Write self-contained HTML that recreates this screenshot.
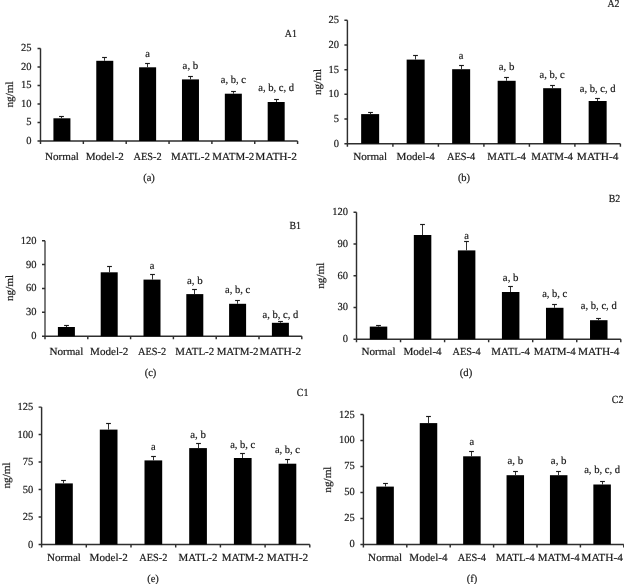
<!DOCTYPE html>
<html><head><meta charset="utf-8"><style>
html,body{margin:0;padding:0;background:#fff;}
body{width:624px;height:584px;overflow:hidden;}
svg{display:block;will-change:transform;}
text{font-family:"Liberation Serif",serif;font-size:10.8px;fill:#1a1a1a;stroke:#1a1a1a;stroke-width:0.2px;text-rendering:geometricPrecision;}
</style></head><body>
<svg width="624" height="584" viewBox="0 0 624 584">
<rect width="624" height="584" fill="#fff"/>
<path d="M40.5 48.4V141" stroke="#2e2e2e" stroke-width="1.45" fill="none"/>
<path d="M40.5 141H297.6M37.5 141H40.5M37.5 122.48H40.5M37.5 103.96H40.5M37.5 85.44H40.5M37.5 66.92H40.5M37.5 48.4H40.5M40.5 141V144M83.35 141V144M126.2 141V144M169.05 141V144M211.9 141V144M254.75 141V144M297.6 141V144" stroke="#2e2e2e" stroke-width="1.45" fill="none"/>
<rect x="53.42" y="118.3" width="17" height="22.7" fill="#000"/>
<path d="M61.5 118.3V116.5" stroke="#262626" stroke-width="0.95" fill="none"/>
<path d="M59.1 116.5H63.9" stroke="#1a1a1a" stroke-width="1.15" fill="none"/>
<text x="61.92" y="159.7" text-anchor="middle" textLength="33.99" lengthAdjust="spacingAndGlyphs">Normal</text>
<rect x="96.28" y="60.8" width="17" height="80.2" fill="#000"/>
<path d="M104.5 60.8V57.5" stroke="#262626" stroke-width="0.95" fill="none"/>
<path d="M102.1 57.5H106.9" stroke="#1a1a1a" stroke-width="1.15" fill="none"/>
<text x="104.78" y="159.7" text-anchor="middle" textLength="38.22" lengthAdjust="spacingAndGlyphs">Model-2</text>
<rect x="139.12" y="67.3" width="17" height="73.7" fill="#000"/>
<path d="M147.5 67.3V63.5" stroke="#262626" stroke-width="0.95" fill="none"/>
<path d="M145.1 63.5H149.9" stroke="#1a1a1a" stroke-width="1.15" fill="none"/>
<text x="147.62" y="56.9" text-anchor="middle" textLength="4.66" lengthAdjust="spacingAndGlyphs">a</text>
<text x="147.62" y="159.7" text-anchor="middle" textLength="28.15" lengthAdjust="spacingAndGlyphs">AES-2</text>
<rect x="181.97" y="79.4" width="17" height="61.6" fill="#000"/>
<path d="M190.5 79.4V76.5" stroke="#262626" stroke-width="0.95" fill="none"/>
<path d="M188.1 76.5H192.9" stroke="#1a1a1a" stroke-width="1.15" fill="none"/>
<text x="190.47" y="68.8" text-anchor="middle" textLength="15.68" lengthAdjust="spacingAndGlyphs">a, b</text>
<text x="190.47" y="159.7" text-anchor="middle" textLength="38.82" lengthAdjust="spacingAndGlyphs">MATL-2</text>
<rect x="224.83" y="93.7" width="17" height="47.3" fill="#000"/>
<path d="M233.5 93.7V91.5" stroke="#262626" stroke-width="0.95" fill="none"/>
<path d="M231.1 91.5H235.9" stroke="#1a1a1a" stroke-width="1.15" fill="none"/>
<text x="233.33" y="82.9" text-anchor="middle" textLength="25.07" lengthAdjust="spacingAndGlyphs">a, b, c</text>
<text x="233.33" y="159.7" text-anchor="middle" textLength="41.90" lengthAdjust="spacingAndGlyphs">MATM-2</text>
<rect x="267.68" y="102" width="17" height="39" fill="#000"/>
<path d="M276.5 102V99.5" stroke="#262626" stroke-width="0.95" fill="none"/>
<path d="M274.1 99.5H278.9" stroke="#1a1a1a" stroke-width="1.15" fill="none"/>
<text x="276.18" y="90.9" text-anchor="middle" textLength="35.93" lengthAdjust="spacingAndGlyphs">a, b, c, d</text>
<text x="276.18" y="159.7" text-anchor="middle" textLength="41.58" lengthAdjust="spacingAndGlyphs">MATH-2</text>
<text x="31.4" y="144" text-anchor="end" textLength="5.25" lengthAdjust="spacingAndGlyphs">0</text>
<text x="31.4" y="125.48" text-anchor="end" textLength="5.25" lengthAdjust="spacingAndGlyphs">5</text>
<text x="31.4" y="106.96" text-anchor="end" textLength="10.50" lengthAdjust="spacingAndGlyphs">10</text>
<text x="31.4" y="88.44" text-anchor="end" textLength="10.50" lengthAdjust="spacingAndGlyphs">15</text>
<text x="31.4" y="69.92" text-anchor="end" textLength="10.50" lengthAdjust="spacingAndGlyphs">20</text>
<text x="31.4" y="51.4" text-anchor="end" textLength="10.50" lengthAdjust="spacingAndGlyphs">25</text>
<text x="296.9" y="36.8" text-anchor="end" textLength="12.06" lengthAdjust="spacingAndGlyphs">A1</text>
<text x="149" y="181" text-anchor="middle" textLength="11.65" lengthAdjust="spacingAndGlyphs">(a)</text>
<text transform="translate(13.4 94.5) rotate(-90)" text-anchor="middle" textLength="26.19" lengthAdjust="spacingAndGlyphs">ng/ml</text>
<path d="M347.4 20.3V143.7" stroke="#2e2e2e" stroke-width="1.45" fill="none"/>
<path d="M347.4 143.7H620.4M344.4 143.7H347.4M344.4 119.02H347.4M344.4 94.34H347.4M344.4 69.66H347.4M344.4 44.98H347.4M344.4 20.3H347.4M347.4 143.7V146.7M392.9 143.7V146.7M438.4 143.7V146.7M483.9 143.7V146.7M529.4 143.7V146.7M574.9 143.7V146.7M620.4 143.7V146.7" stroke="#2e2e2e" stroke-width="1.45" fill="none"/>
<rect x="361.15" y="114.1" width="18" height="29.6" fill="#000"/>
<path d="M370.5 114.1V112.5" stroke="#262626" stroke-width="0.95" fill="none"/>
<path d="M368.1 112.5H372.9" stroke="#1a1a1a" stroke-width="1.15" fill="none"/>
<text x="370.15" y="159.7" text-anchor="middle" textLength="33.99" lengthAdjust="spacingAndGlyphs">Normal</text>
<rect x="406.65" y="59.6" width="18" height="84.1" fill="#000"/>
<path d="M415.5 59.6V55.5" stroke="#262626" stroke-width="0.95" fill="none"/>
<path d="M413.1 55.5H417.9" stroke="#1a1a1a" stroke-width="1.15" fill="none"/>
<text x="415.65" y="159.7" text-anchor="middle" textLength="38.22" lengthAdjust="spacingAndGlyphs">Model-4</text>
<rect x="452.15" y="69.2" width="18" height="74.5" fill="#000"/>
<path d="M461.5 69.2V65.5" stroke="#262626" stroke-width="0.95" fill="none"/>
<path d="M459.1 65.5H463.9" stroke="#1a1a1a" stroke-width="1.15" fill="none"/>
<text x="461.15" y="58.8" text-anchor="middle" textLength="4.66" lengthAdjust="spacingAndGlyphs">a</text>
<text x="461.15" y="159.7" text-anchor="middle" textLength="28.15" lengthAdjust="spacingAndGlyphs">AES-4</text>
<rect x="497.65" y="80.8" width="18" height="62.9" fill="#000"/>
<path d="M506.5 80.8V77.5" stroke="#262626" stroke-width="0.95" fill="none"/>
<path d="M504.1 77.5H508.9" stroke="#1a1a1a" stroke-width="1.15" fill="none"/>
<text x="506.65" y="70.2" text-anchor="middle" textLength="15.68" lengthAdjust="spacingAndGlyphs">a, b</text>
<text x="506.65" y="159.7" text-anchor="middle" textLength="38.82" lengthAdjust="spacingAndGlyphs">MATL-4</text>
<rect x="543.15" y="88.2" width="18" height="55.5" fill="#000"/>
<path d="M552.5 88.2V85.5" stroke="#262626" stroke-width="0.95" fill="none"/>
<path d="M550.1 85.5H554.9" stroke="#1a1a1a" stroke-width="1.15" fill="none"/>
<text x="552.15" y="77.9" text-anchor="middle" textLength="25.07" lengthAdjust="spacingAndGlyphs">a, b, c</text>
<text x="552.15" y="159.7" text-anchor="middle" textLength="41.90" lengthAdjust="spacingAndGlyphs">MATM-4</text>
<rect x="588.65" y="101" width="18" height="42.7" fill="#000"/>
<path d="M597.5 101V98.5" stroke="#262626" stroke-width="0.95" fill="none"/>
<path d="M595.1 98.5H599.9" stroke="#1a1a1a" stroke-width="1.15" fill="none"/>
<text x="597.65" y="91.6" text-anchor="middle" textLength="35.93" lengthAdjust="spacingAndGlyphs">a, b, c, d</text>
<text x="597.65" y="159.7" text-anchor="middle" textLength="41.58" lengthAdjust="spacingAndGlyphs">MATH-4</text>
<text x="339.1" y="146.7" text-anchor="end" textLength="5.25" lengthAdjust="spacingAndGlyphs">0</text>
<text x="339.1" y="122.02" text-anchor="end" textLength="5.25" lengthAdjust="spacingAndGlyphs">5</text>
<text x="339.1" y="97.34" text-anchor="end" textLength="10.50" lengthAdjust="spacingAndGlyphs">10</text>
<text x="339.1" y="72.66" text-anchor="end" textLength="10.50" lengthAdjust="spacingAndGlyphs">15</text>
<text x="339.1" y="47.98" text-anchor="end" textLength="10.50" lengthAdjust="spacingAndGlyphs">20</text>
<text x="339.1" y="23.3" text-anchor="end" textLength="10.50" lengthAdjust="spacingAndGlyphs">25</text>
<text x="619.5" y="7" text-anchor="end" textLength="12.06" lengthAdjust="spacingAndGlyphs">A2</text>
<text x="464" y="180.5" text-anchor="middle" textLength="12.24" lengthAdjust="spacingAndGlyphs">(b)</text>
<text transform="translate(321.3 81.9) rotate(-90)" text-anchor="middle" textLength="26.19" lengthAdjust="spacingAndGlyphs">ng/ml</text>
<path d="M45 240.7V336.2" stroke="#4a4a4a" stroke-width="1.45" fill="none"/>
<path d="M45 336.2H301.8M42 336.2H45M42 312.32H45M42 288.45H45M42 264.57H45M42 240.7H45M45 336.2V339.2M87.8 336.2V339.2M130.6 336.2V339.2M173.4 336.2V339.2M216.2 336.2V339.2M259 336.2V339.2M301.8 336.2V339.2" stroke="#2e2e2e" stroke-width="1.45" fill="none"/>
<rect x="57.9" y="327" width="17" height="9.2" fill="#000"/>
<path d="M66.5 327V325.5" stroke="#262626" stroke-width="0.95" fill="none"/>
<path d="M64.1 325.5H68.9" stroke="#1a1a1a" stroke-width="1.15" fill="none"/>
<text x="66.4" y="354.5" text-anchor="middle" textLength="33.99" lengthAdjust="spacingAndGlyphs">Normal</text>
<rect x="100.7" y="272.3" width="17" height="63.9" fill="#000"/>
<path d="M109.5 272.3V266.5" stroke="#262626" stroke-width="0.95" fill="none"/>
<path d="M107.1 266.5H111.9" stroke="#1a1a1a" stroke-width="1.15" fill="none"/>
<text x="109.2" y="354.5" text-anchor="middle" textLength="38.22" lengthAdjust="spacingAndGlyphs">Model-2</text>
<rect x="143.5" y="279.6" width="17" height="56.6" fill="#000"/>
<path d="M152.5 279.6V274.5" stroke="#262626" stroke-width="0.95" fill="none"/>
<path d="M150.1 274.5H154.9" stroke="#1a1a1a" stroke-width="1.15" fill="none"/>
<text x="152" y="268.5" text-anchor="middle" textLength="4.66" lengthAdjust="spacingAndGlyphs">a</text>
<text x="152" y="354.5" text-anchor="middle" textLength="28.15" lengthAdjust="spacingAndGlyphs">AES-2</text>
<rect x="186.3" y="294.1" width="17" height="42.1" fill="#000"/>
<path d="M194.5 294.1V289.5" stroke="#262626" stroke-width="0.95" fill="none"/>
<path d="M192.1 289.5H196.9" stroke="#1a1a1a" stroke-width="1.15" fill="none"/>
<text x="194.8" y="283.5" text-anchor="middle" textLength="15.68" lengthAdjust="spacingAndGlyphs">a, b</text>
<text x="194.8" y="354.5" text-anchor="middle" textLength="38.82" lengthAdjust="spacingAndGlyphs">MATL-2</text>
<rect x="229.1" y="303.8" width="17" height="32.4" fill="#000"/>
<path d="M237.5 303.8V300.5" stroke="#262626" stroke-width="0.95" fill="none"/>
<path d="M235.1 300.5H239.9" stroke="#1a1a1a" stroke-width="1.15" fill="none"/>
<text x="237.6" y="293" text-anchor="middle" textLength="25.07" lengthAdjust="spacingAndGlyphs">a, b, c</text>
<text x="237.6" y="354.5" text-anchor="middle" textLength="41.90" lengthAdjust="spacingAndGlyphs">MATM-2</text>
<rect x="271.9" y="322.8" width="17" height="13.4" fill="#000"/>
<path d="M280.5 322.8V321.5" stroke="#262626" stroke-width="0.95" fill="none"/>
<path d="M278.1 321.5H282.9" stroke="#1a1a1a" stroke-width="1.15" fill="none"/>
<text x="280.4" y="317.8" text-anchor="middle" textLength="35.93" lengthAdjust="spacingAndGlyphs">a, b, c, d</text>
<text x="280.4" y="354.5" text-anchor="middle" textLength="41.58" lengthAdjust="spacingAndGlyphs">MATH-2</text>
<text x="36.6" y="339.2" text-anchor="end" textLength="5.25" lengthAdjust="spacingAndGlyphs">0</text>
<text x="36.6" y="315.32" text-anchor="end" textLength="10.50" lengthAdjust="spacingAndGlyphs">30</text>
<text x="36.6" y="291.45" text-anchor="end" textLength="10.50" lengthAdjust="spacingAndGlyphs">60</text>
<text x="36.6" y="267.57" text-anchor="end" textLength="10.50" lengthAdjust="spacingAndGlyphs">90</text>
<text x="36.6" y="243.7" text-anchor="end" textLength="15.75" lengthAdjust="spacingAndGlyphs">120</text>
<text x="301" y="229" text-anchor="end" textLength="11.51" lengthAdjust="spacingAndGlyphs">B1</text>
<text x="150.5" y="376" text-anchor="middle" textLength="11.65" lengthAdjust="spacingAndGlyphs">(c)</text>
<text transform="translate(13 288) rotate(-90)" text-anchor="middle" textLength="26.19" lengthAdjust="spacingAndGlyphs">ng/ml</text>
<path d="M356.5 212.3V339.2" stroke="#2e2e2e" stroke-width="1.45" fill="none"/>
<path d="M356.5 339.2H620.8M353.5 339.2H356.5M353.5 307.48H356.5M353.5 275.75H356.5M353.5 244.03H356.5M353.5 212.3H356.5M356.5 339.2V342.2M400.55 339.2V342.2M444.6 339.2V342.2M488.65 339.2V342.2M532.7 339.2V342.2M576.75 339.2V342.2M620.8 339.2V342.2" stroke="#2e2e2e" stroke-width="1.45" fill="none"/>
<rect x="369.77" y="326.6" width="17.5" height="12.6" fill="#000"/>
<path d="M378.5 326.6V325.5" stroke="#262626" stroke-width="0.95" fill="none"/>
<path d="M376.1 325.5H380.9" stroke="#1a1a1a" stroke-width="1.15" fill="none"/>
<text x="378.52" y="355" text-anchor="middle" textLength="33.99" lengthAdjust="spacingAndGlyphs">Normal</text>
<rect x="413.82" y="235" width="17.5" height="104.2" fill="#000"/>
<path d="M422.5 235V224.5" stroke="#262626" stroke-width="0.95" fill="none"/>
<path d="M420.1 224.5H424.9" stroke="#1a1a1a" stroke-width="1.15" fill="none"/>
<text x="422.57" y="355" text-anchor="middle" textLength="38.22" lengthAdjust="spacingAndGlyphs">Model-4</text>
<rect x="457.88" y="250.4" width="17.5" height="88.8" fill="#000"/>
<path d="M466.5 250.4V241.5" stroke="#262626" stroke-width="0.95" fill="none"/>
<path d="M464.1 241.5H468.9" stroke="#1a1a1a" stroke-width="1.15" fill="none"/>
<text x="466.62" y="239.4" text-anchor="middle" textLength="4.66" lengthAdjust="spacingAndGlyphs">a</text>
<text x="466.62" y="355" text-anchor="middle" textLength="28.15" lengthAdjust="spacingAndGlyphs">AES-4</text>
<rect x="501.92" y="292" width="17.5" height="47.2" fill="#000"/>
<path d="M510.5 292V286.5" stroke="#262626" stroke-width="0.95" fill="none"/>
<path d="M508.1 286.5H512.9" stroke="#1a1a1a" stroke-width="1.15" fill="none"/>
<text x="510.67" y="280.8" text-anchor="middle" textLength="15.68" lengthAdjust="spacingAndGlyphs">a, b</text>
<text x="510.67" y="355" text-anchor="middle" textLength="38.82" lengthAdjust="spacingAndGlyphs">MATL-4</text>
<rect x="545.98" y="307.8" width="17.5" height="31.4" fill="#000"/>
<path d="M554.5 307.8V304.5" stroke="#262626" stroke-width="0.95" fill="none"/>
<path d="M552.1 304.5H556.9" stroke="#1a1a1a" stroke-width="1.15" fill="none"/>
<text x="554.73" y="296.8" text-anchor="middle" textLength="25.07" lengthAdjust="spacingAndGlyphs">a, b, c</text>
<text x="554.73" y="355" text-anchor="middle" textLength="41.90" lengthAdjust="spacingAndGlyphs">MATM-4</text>
<rect x="590.02" y="320.2" width="17.5" height="19" fill="#000"/>
<path d="M598.5 320.2V318.5" stroke="#262626" stroke-width="0.95" fill="none"/>
<path d="M596.1 318.5H600.9" stroke="#1a1a1a" stroke-width="1.15" fill="none"/>
<text x="598.77" y="309.3" text-anchor="middle" textLength="35.93" lengthAdjust="spacingAndGlyphs">a, b, c, d</text>
<text x="598.77" y="355" text-anchor="middle" textLength="41.58" lengthAdjust="spacingAndGlyphs">MATH-4</text>
<text x="348" y="342.2" text-anchor="end" textLength="5.25" lengthAdjust="spacingAndGlyphs">0</text>
<text x="348" y="310.48" text-anchor="end" textLength="10.50" lengthAdjust="spacingAndGlyphs">30</text>
<text x="348" y="278.75" text-anchor="end" textLength="10.50" lengthAdjust="spacingAndGlyphs">60</text>
<text x="348" y="247.03" text-anchor="end" textLength="10.50" lengthAdjust="spacingAndGlyphs">90</text>
<text x="348" y="215.3" text-anchor="end" textLength="15.75" lengthAdjust="spacingAndGlyphs">120</text>
<text x="620.2" y="201.6" text-anchor="end" textLength="11.51" lengthAdjust="spacingAndGlyphs">B2</text>
<text x="466" y="375.7" text-anchor="middle" textLength="12.48" lengthAdjust="spacingAndGlyphs">(d)</text>
<text transform="translate(324.3 275.7) rotate(-90)" text-anchor="middle" textLength="26.19" lengthAdjust="spacingAndGlyphs">ng/ml</text>
<path d="M41.6 407.1V544.5" stroke="#2e2e2e" stroke-width="1.45" fill="none"/>
<path d="M41.6 544.5H309.8M38.6 544.5H41.6M38.6 517.02H41.6M38.6 489.54H41.6M38.6 462.06H41.6M38.6 434.58H41.6M38.6 407.1H41.6M41.6 544.5V547.5M86.3 544.5V547.5M131 544.5V547.5M175.7 544.5V547.5M220.4 544.5V547.5M265.1 544.5V547.5M309.8 544.5V547.5" stroke="#2e2e2e" stroke-width="1.45" fill="none"/>
<rect x="55.1" y="483.4" width="17.7" height="61.1" fill="#000"/>
<path d="M63.5 483.4V480.5" stroke="#262626" stroke-width="0.95" fill="none"/>
<path d="M61.1 480.5H65.9" stroke="#1a1a1a" stroke-width="1.15" fill="none"/>
<text x="63.95" y="561" text-anchor="middle" textLength="33.99" lengthAdjust="spacingAndGlyphs">Normal</text>
<rect x="99.8" y="429.6" width="17.7" height="114.9" fill="#000"/>
<path d="M108.5 429.6V423.5" stroke="#262626" stroke-width="0.95" fill="none"/>
<path d="M106.1 423.5H110.9" stroke="#1a1a1a" stroke-width="1.15" fill="none"/>
<text x="108.65" y="561" text-anchor="middle" textLength="38.22" lengthAdjust="spacingAndGlyphs">Model-2</text>
<rect x="144.5" y="460.4" width="17.7" height="84.1" fill="#000"/>
<path d="M153.5 460.4V456.5" stroke="#262626" stroke-width="0.95" fill="none"/>
<path d="M151.1 456.5H155.9" stroke="#1a1a1a" stroke-width="1.15" fill="none"/>
<text x="153.35" y="449.9" text-anchor="middle" textLength="4.66" lengthAdjust="spacingAndGlyphs">a</text>
<text x="153.35" y="561" text-anchor="middle" textLength="28.15" lengthAdjust="spacingAndGlyphs">AES-2</text>
<rect x="189.2" y="448.1" width="17.7" height="96.4" fill="#000"/>
<path d="M198.5 448.1V443.5" stroke="#262626" stroke-width="0.95" fill="none"/>
<path d="M196.1 443.5H200.9" stroke="#1a1a1a" stroke-width="1.15" fill="none"/>
<text x="198.05" y="437.5" text-anchor="middle" textLength="15.68" lengthAdjust="spacingAndGlyphs">a, b</text>
<text x="198.05" y="561" text-anchor="middle" textLength="38.82" lengthAdjust="spacingAndGlyphs">MATL-2</text>
<rect x="233.9" y="458" width="17.7" height="86.5" fill="#000"/>
<path d="M242.5 458V453.5" stroke="#262626" stroke-width="0.95" fill="none"/>
<path d="M240.1 453.5H244.9" stroke="#1a1a1a" stroke-width="1.15" fill="none"/>
<text x="242.75" y="447.5" text-anchor="middle" textLength="25.07" lengthAdjust="spacingAndGlyphs">a, b, c</text>
<text x="242.75" y="561" text-anchor="middle" textLength="41.90" lengthAdjust="spacingAndGlyphs">MATM-2</text>
<rect x="278.6" y="463.7" width="17.7" height="80.8" fill="#000"/>
<path d="M287.5 463.7V459.5" stroke="#262626" stroke-width="0.95" fill="none"/>
<path d="M285.1 459.5H289.9" stroke="#1a1a1a" stroke-width="1.15" fill="none"/>
<text x="287.45" y="453.4" text-anchor="middle" textLength="25.07" lengthAdjust="spacingAndGlyphs">a, b, c</text>
<text x="287.45" y="561" text-anchor="middle" textLength="41.58" lengthAdjust="spacingAndGlyphs">MATH-2</text>
<text x="33.2" y="547.5" text-anchor="end" textLength="5.25" lengthAdjust="spacingAndGlyphs">0</text>
<text x="33.2" y="520.02" text-anchor="end" textLength="10.50" lengthAdjust="spacingAndGlyphs">25</text>
<text x="33.2" y="492.54" text-anchor="end" textLength="10.50" lengthAdjust="spacingAndGlyphs">50</text>
<text x="33.2" y="465.06" text-anchor="end" textLength="10.50" lengthAdjust="spacingAndGlyphs">75</text>
<text x="33.2" y="437.58" text-anchor="end" textLength="15.75" lengthAdjust="spacingAndGlyphs">100</text>
<text x="33.2" y="410.1" text-anchor="end" textLength="15.75" lengthAdjust="spacingAndGlyphs">125</text>
<text x="308.5" y="395.9" text-anchor="end" textLength="11.76" lengthAdjust="spacingAndGlyphs">C1</text>
<text x="153" y="582" text-anchor="middle" textLength="11.65" lengthAdjust="spacingAndGlyphs">(e)</text>
<text transform="translate(9.8 475.5) rotate(-90)" text-anchor="middle" textLength="26.19" lengthAdjust="spacingAndGlyphs">ng/ml</text>
<path d="M363.4 414.5V544.4" stroke="#2e2e2e" stroke-width="1.45" fill="none"/>
<path d="M363.4 544.4H623.8M360.4 544.4H363.4M360.4 518.42H363.4M360.4 492.44H363.4M360.4 466.46H363.4M360.4 440.48H363.4M360.4 414.5H363.4M363.4 544.4V547.4M406.8 544.4V547.4M450.2 544.4V547.4M493.6 544.4V547.4M537 544.4V547.4M580.4 544.4V547.4M623.8 544.4V547.4" stroke="#2e2e2e" stroke-width="1.45" fill="none"/>
<rect x="376.35" y="486.6" width="17.5" height="57.8" fill="#000"/>
<path d="M385.5 486.6V483.5" stroke="#262626" stroke-width="0.95" fill="none"/>
<path d="M383.1 483.5H387.9" stroke="#1a1a1a" stroke-width="1.15" fill="none"/>
<text x="385.1" y="560.8" text-anchor="middle" textLength="33.99" lengthAdjust="spacingAndGlyphs">Normal</text>
<rect x="419.75" y="423.1" width="17.5" height="121.3" fill="#000"/>
<path d="M428.5 423.1V416.5" stroke="#262626" stroke-width="0.95" fill="none"/>
<path d="M426.1 416.5H430.9" stroke="#1a1a1a" stroke-width="1.15" fill="none"/>
<text x="428.5" y="560.8" text-anchor="middle" textLength="38.22" lengthAdjust="spacingAndGlyphs">Model-4</text>
<rect x="463.15" y="456.3" width="17.5" height="88.1" fill="#000"/>
<path d="M471.5 456.3V451.5" stroke="#262626" stroke-width="0.95" fill="none"/>
<path d="M469.1 451.5H473.9" stroke="#1a1a1a" stroke-width="1.15" fill="none"/>
<text x="471.9" y="445.1" text-anchor="middle" textLength="4.66" lengthAdjust="spacingAndGlyphs">a</text>
<text x="471.9" y="560.8" text-anchor="middle" textLength="28.15" lengthAdjust="spacingAndGlyphs">AES-4</text>
<rect x="506.55" y="475.2" width="17.5" height="69.2" fill="#000"/>
<path d="M515.5 475.2V471.5" stroke="#262626" stroke-width="0.95" fill="none"/>
<path d="M513.1 471.5H517.9" stroke="#1a1a1a" stroke-width="1.15" fill="none"/>
<text x="515.3" y="463.6" text-anchor="middle" textLength="15.68" lengthAdjust="spacingAndGlyphs">a, b</text>
<text x="515.3" y="560.8" text-anchor="middle" textLength="38.82" lengthAdjust="spacingAndGlyphs">MATL-4</text>
<rect x="549.95" y="475.2" width="17.5" height="69.2" fill="#000"/>
<path d="M558.5 475.2V471.5" stroke="#262626" stroke-width="0.95" fill="none"/>
<path d="M556.1 471.5H560.9" stroke="#1a1a1a" stroke-width="1.15" fill="none"/>
<text x="558.7" y="463.6" text-anchor="middle" textLength="15.68" lengthAdjust="spacingAndGlyphs">a, b</text>
<text x="558.7" y="560.8" text-anchor="middle" textLength="41.90" lengthAdjust="spacingAndGlyphs">MATM-4</text>
<rect x="593.35" y="484.5" width="17.5" height="59.9" fill="#000"/>
<path d="M602.5 484.5V481.5" stroke="#262626" stroke-width="0.95" fill="none"/>
<path d="M600.1 481.5H604.9" stroke="#1a1a1a" stroke-width="1.15" fill="none"/>
<text x="602.1" y="472.7" text-anchor="middle" textLength="35.93" lengthAdjust="spacingAndGlyphs">a, b, c, d</text>
<text x="602.1" y="560.8" text-anchor="middle" textLength="41.58" lengthAdjust="spacingAndGlyphs">MATH-4</text>
<text x="354.7" y="547.4" text-anchor="end" textLength="5.25" lengthAdjust="spacingAndGlyphs">0</text>
<text x="354.7" y="521.42" text-anchor="end" textLength="10.50" lengthAdjust="spacingAndGlyphs">25</text>
<text x="354.7" y="495.44" text-anchor="end" textLength="10.50" lengthAdjust="spacingAndGlyphs">50</text>
<text x="354.7" y="469.46" text-anchor="end" textLength="10.50" lengthAdjust="spacingAndGlyphs">75</text>
<text x="354.7" y="443.48" text-anchor="end" textLength="15.75" lengthAdjust="spacingAndGlyphs">100</text>
<text x="354.7" y="417.5" text-anchor="end" textLength="15.75" lengthAdjust="spacingAndGlyphs">125</text>
<text x="623.6" y="403.4" text-anchor="end" textLength="11.76" lengthAdjust="spacingAndGlyphs">C2</text>
<text x="472" y="581.8" text-anchor="middle" textLength="10.49" lengthAdjust="spacingAndGlyphs">(f)</text>
<text transform="translate(331.3 479.6) rotate(-90)" text-anchor="middle" textLength="26.19" lengthAdjust="spacingAndGlyphs">ng/ml</text>
</svg>
</body></html>
